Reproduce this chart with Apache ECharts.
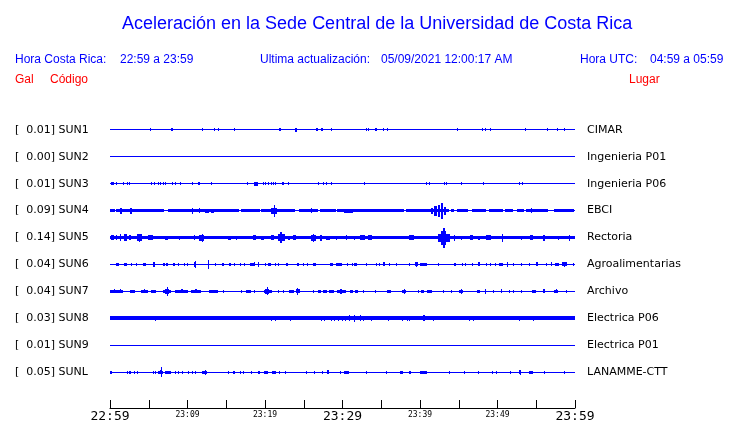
<!DOCTYPE html>
<html>
<head>
<meta charset="utf-8">
<script src="https://cdn.jsdelivr.net/npm/echarts@6/dist/echarts.min.js"></script>
<style>html,body{margin:0;padding:0;background:#fff}#c{width:740px;height:423px}</style>
</head>
<body>
<div id="c"></div>
<script>
// ---------- DATA ----------
const codes = ['SUN1','SUN2','SUN3','SUN4','SUN5','SUN6','SUN7','SUN8','SUN9','SUNL'];
const gal = ['0.01','0.00','0.01','0.09','0.14','0.04','0.04','0.03','0.01','0.05'];
const places = ['CIMAR','Ingenieria P01','Ingenieria P06','EBCI','Rectoria','Agroalimentarias','Archivo','Electrica P06','Electrica P01','LANAMME-CTT'];
const tickLabels = ['22:59','','23:09','','23:19','','23:29','','23:39','','23:49','','23:59'];
const bigTicks = ['22:59','23:29','23:59'];
// time in minutes after 22:59; [start, end, half amplitude]
const bands = {
  SUN4: [[0,0.6,1.5],[0.9,7.1,1.5],[7.5,16.6,1.5],[17.0,19.4,1.5],[19.6,24.0,1.5],[24.4,26.8,1.5],[27.2,29.2,1.5],[29.4,38.1,1.5],[38.3,43.9,1.5],[44.1,44.5,1.5],[44.8,46.2,1.5],[46.8,48.6,1.5],[49.0,50.8,1.5],[51.0,52.0,1.5],[52.6,53.5,1.5],[53.8,56.7,1.5],[57.4,60,1.5]],
  SUN5: [[0,60,1.5]],
  SUN8: [[0,60,2]]
};
const sun1 = [[5.2,5.2,1.5],[7.9,7.9,1.5],[8.1,8.1,1.5],[11.9,11.9,1.5],[13.5,13.5,1.5],[14.0,14.0,1.5],[16.0,16.0,1.5],[21.9,22.2,1.5],[23.9,24.1,2],[26.6,26.8,1.5],[27.3,27.6,1.5],[28.6,28.6,1.5],[33.1,33.1,1.5],[33.3,33.3,1.5],[34.2,34.4,1.5],[35.3,35.3,1.5],[35.8,35.8,1.5],[44.8,44.8,1.5],[48.0,48.0,1.5],[48.5,48.5,1.5],[49.1,49.1,1.5],[53.6,53.6,1.5],[56.4,56.4,1.5],[57.8,57.8,1.5],[58.6,58.6,1.5]];
const sun2 = [];
const sun3 = [[0.2,0.6,1.5],[0.9,0.9,1.5],[1.8,1.8,1.5],[2.2,2.2,1.5],[2.5,2.5,1.5],[5.4,5.4,1.5],[5.8,5.8,1.5],[6.2,6.3,1.5],[6.5,6.6,1.5],[6.9,7.0,1.5],[7.2,7.3,1.5],[8.1,8.1,1.5],[8.4,8.4,1.5],[9.1,9.1,1.5],[10.7,10.7,1.5],[11.4,11.6,1.5],[13.1,13.1,1.5],[17.7,17.7,1.5],[18.6,19.1,2],[19.8,19.8,1.5],[20.0,20.0,1.5],[20.4,20.4,1.5],[20.9,20.9,1.5],[21.1,21.1,1.5],[21.4,21.4,1.5],[22.2,22.4,1.5],[23.0,23.0,1.5],[26.9,26.9,1.5],[27.5,27.5,1.5],[27.9,28.0,1.5],[28.6,28.6,1.5],[32.9,32.9,1.5],[40.9,41.0,1.5],[41.2,41.3,1.5],[43.2,43.2,1.5],[43.4,43.4,1.5],[45.3,45.3,1.5],[48.2,48.2,1.5],[52.9,53.0,1.5],[53.2,53.2,1.5]];
const sun4 = [[1.3,1.5,3],[2.7,2.9,3],[10.7,10.7,3],[11.6,11.6,2.5],[12.3,12.8,2],[13.1,13.5,2],[20.9,21.7,3],[21.2,21.3,6],[26.0,26.0,2.5],[30.3,31.4,2],[41.5,41.8,3],[41.9,42.3,5],[42.4,42.7,6],[42.8,43.0,8],[43.1,43.3,4],[54.4,54.4,2.5]];
const sun5 = [[0.2,0.6,2.5],[0.9,1.0,2.5],[1.3,1.3,3.5],[1.9,2.3,3.5],[2.5,2.8,2.5],[3.6,4.2,3.5],[3.8,3.9,4],[5.0,5.6,2.5],[7.1,7.5,2],[9.0,9.0,2],[10.9,10.9,2.5],[11.6,12.3,3],[11.9,12.0,4],[15.3,15.7,2],[16.3,16.3,2],[18.5,18.9,2.5],[19.6,20.0,2],[20.9,21.3,2.5],[21.7,22.6,3.5],[22.0,22.2,5.5],[23.0,23.3,2],[23.7,24.1,2.5],[26.0,26.7,3],[26.3,26.4,4],[27.2,27.5,3],[27.9,28.4,2],[29.2,29.2,2],[30.5,30.5,2.5],[31.6,31.6,2],[32.3,32.9,2.5],[33.3,33.8,2.5],[38.6,39.2,2.5],[42.4,43.9,4],[42.8,43.4,7],[43.0,43.2,10],[44.5,44.5,3],[45.4,45.4,2],[46.5,46.9,2.5],[47.5,47.7,2],[48.6,49.3,2.5],[50.7,50.7,4],[53.1,53.1,2],[54.2,54.6,2.5],[55.9,56.1,3],[57.9,57.9,2],[59.3,59.3,3]];
const sun6 = [[0.9,1.3,1.5],[1.9,2.3,1.5],[2.8,2.8,1.5],[3.4,3.4,1.5],[4.3,4.7,1.5],[5.6,5.8,2.5],[6.9,7.1,1.5],[7.3,7.5,1.5],[8.2,8.5,1.5],[8.9,8.9,1.5],[9.6,9.6,1.5],[10.0,10.0,1.5],[10.9,11.2,2.5],[11.0,11.1,3.5],[12.7,12.7,4.5],[13.6,13.6,1.5],[14.5,14.8,1.5],[15.4,15.6,1.5],[16.1,16.1,1.5],[16.8,16.8,1.5],[17.4,17.4,1.5],[18.1,18.8,1.5],[18.6,18.7,2],[19.1,19.1,2.5],[20.0,20.0,1.5],[20.5,20.9,1.5],[21.3,21.3,1.5],[21.8,21.8,1.5],[22.8,23.0,1.5],[24.2,24.5,1.5],[25.0,25.0,1.5],[25.5,25.5,1.5],[26.3,26.7,1.5],[28.4,28.8,1.5],[29.2,30.0,1.5],[30.6,30.6,1.5],[31.3,31.3,1.5],[31.6,32.0,1.5],[33.1,33.1,1.5],[34.4,34.4,1.5],[34.8,34.8,1.5],[35.3,35.5,2],[36.0,36.0,1.5],[37.0,37.0,1.5],[38.6,38.6,1.5],[39.4,39.8,2],[39.6,39.7,2.5],[40.0,40.9,1.5],[42.4,42.4,1.5],[44.5,44.8,1.5],[45.5,45.5,1.5],[45.9,45.9,1.5],[46.8,46.8,1.5],[47.5,47.8,2],[48.6,48.6,1.5],[49.1,49.1,1.5],[49.7,49.7,1.5],[50.3,50.8,1.5],[51.3,51.3,2.5],[52.0,52.0,1.5],[53.1,53.1,1.5],[54.1,54.1,1.5],[55.0,55.3,2],[56.3,56.3,1.5],[57.0,57.0,2],[57.5,58.0,1.5],[58.4,59.1,2],[58.7,58.8,2.5],[59.8,59.8,1.5]];
const sun7 = [[0,1.7,1.5],[0.6,0.7,2],[1.4,1.5,2],[2.6,3.2,1.5],[4.1,5.0,1.5],[4.5,4.6,2],[5.4,6.0,1.5],[6.9,7.9,1.5],[7.2,7.7,2.5],[7.4,7.5,4.5],[8.4,10.1,1.5],[9.2,9.4,2],[10.5,11.8,1.5],[11.0,11.2,2],[12.9,14.0,1.5],[14.7,14.7,1.5],[17.0,17.0,1.5],[17.6,18.3,1.5],[18.7,18.7,1.5],[19.9,20.9,1.5],[20.1,20.6,2.5],[20.3,20.4,4],[21.7,21.7,1.5],[22.4,22.4,1.5],[23.2,23.9,1.5],[24.0,24.5,2],[24.2,24.3,3.5],[26.2,26.2,1.5],[26.9,27.3,1.5],[27.5,28.0,1.5],[28.3,29.0,1.5],[29.4,30.5,1.5],[29.8,30.0,2.5],[31.0,31.4,1.5],[31.7,32.1,1.5],[32.7,32.7,1.5],[34.2,34.2,1.5],[35.8,36.3,1.5],[37.8,38.3,1.5],[38.0,38.1,2.5],[39.8,39.8,1.5],[40.2,40.6,1.5],[41.0,41.6,1.5],[43.0,43.0,1.5],[44.1,44.1,1.5],[45.1,45.6,1.5],[45.3,45.4,2.5],[47.4,47.8,1.5],[48.4,48.4,2.5],[49.5,49.5,1.5],[50.5,50.5,2],[51.5,51.5,1.5],[52.1,52.1,1.5],[53.1,53.1,1.5],[54.5,55.0,1.5],[55.9,56.2,2],[57.4,57.9,1.5],[57.6,57.7,2],[58.9,58.9,1.5]];
const sun8 = [[5.9,5.9,2.5],[20.9,20.9,2.5],[21.4,21.4,2.5],[23.3,23.3,2.5],[27.3,27.3,2.5],[27.7,27.7,2.5],[28.6,28.6,2.5],[29.0,29.0,2.5],[29.5,29.5,2.5],[30.0,30.1,2.5],[30.4,30.5,2.5],[30.9,31.0,3],[31.5,31.6,3.5],[32.3,32.4,3],[32.7,32.8,2.5],[33.8,33.8,2.5],[35.9,35.9,2.5],[37.7,37.7,2.5],[38.4,38.4,2.5],[38.6,38.6,2.5],[40.4,40.7,3],[41.7,41.7,2.5],[46.4,46.4,2.5],[46.9,46.9,2.5],[52.9,52.9,2.5],[54.7,54.7,2.5]];
const sun9 = [];
const sunl = [[0,0.3,1.5],[2.2,2.2,1.5],[2.5,2.8,1.5],[3.1,3.1,1.5],[3.6,3.6,1.5],[5.6,5.6,1.5],[5.9,5.9,1.5],[6.3,7.0,1.5],[6.5,6.6,2],[6.7,6.7,5],[7.1,7.9,1.5],[8.5,8.5,1.5],[8.9,8.9,1.5],[9.3,9.3,1.5],[10.1,10.1,1.5],[10.6,10.6,1.5],[11.0,11.0,1.5],[11.9,12.5,1.5],[12.3,12.3,2.5],[15.3,15.3,1.5],[15.9,16.2,1.5],[16.9,16.9,1.5],[17.2,17.2,1.5],[18.2,18.2,1.5],[19.1,19.4,1.5],[19.9,20.4,1.5],[21.0,21.5,1.5],[21.9,21.9,1.5],[22.6,22.6,1.5],[25.4,25.4,1.5],[26.4,26.4,1.5],[27.4,27.4,1.5],[28.1,28.4,2],[29.7,29.8,1.5],[30.3,31.0,1.5],[33.1,33.1,1.5],[35.7,35.7,1.5],[37.5,37.9,1.5],[38.6,38.8,1.5],[40.0,40.9,1.5],[43.8,43.8,1.5],[45.8,45.8,1.5],[47.6,47.6,1.5],[49.4,49.4,1.5],[49.9,49.9,1.5],[51.7,51.7,1.5],[52.9,53.1,2],[53.0,53.0,2.5],[54.1,54.6,1.5],[56.1,56.1,1.5],[58.7,58.7,1.5]];
const events = [sun1, sun2, sun3, sun4, sun5, sun6, sun7, sun8, sun9, sunl];

// ---------- BUILD ----------
const T0 = 0, T1 = 60;
const AMP = 1 / 27; // amplitude unit relative to trace spacing
const items = [];
codes.forEach((c, row) => {
  items.push([T0, T1, 0.5, row]);
  (bands[c] || []).forEach(b => items.push([b[0], b[1], b[2], row]));
  events[row].forEach(e => items.push([e[0], e[1], e[2], row]));
});

const BLUE = '#0000ff';
const chart = echarts.init(document.getElementById('c'), null, {renderer: 'canvas'});

function renderItem(params, api) {
  const s = api.value(0), e = api.value(1), a = api.value(2), r = api.value(3);
  const p0 = api.coord([s, r]);
  const p1 = api.coord([e, r]);
  const hpx = api.size([0, a * AMP])[1];
  const h = Math.max(1, Math.round(2 * hpx));
  const w = Math.max(1, Math.round(p1[0] - p0[0]));
  return {
    type: 'rect',
    shape: {x: Math.floor(p0[0]), y: Math.round(p0[1] - h / 2), width: w, height: h},
    style: {fill: BLUE}
  };
}

const labelFont = {fontFamily: 'DejaVu Sans', fontSize: 11, color: '#000'};
const hdr = (text, x, y, color) => ({
  type: 'text', x: x, y: y,
  style: {text: text, fill: color, font: '12px "Liberation Sans", Arial, sans-serif', verticalAlign: 'middle'}
});

chart.setOption({
  animation: false,
  title: {
    text: 'Aceleración en la Sede Central de la Universidad de Costa Rica',
    left: 117, top: 10,
    textStyle: {color: BLUE, fontFamily: '"Liberation Sans", Arial, sans-serif', fontSize: 18, fontWeight: 'normal'}
  },
  graphic: [
    hdr('Hora Costa Rica:', 15, 60, BLUE),
    hdr('22:59 a 23:59', 120, 60, BLUE),
    hdr('Ultima actualización:', 260, 60, BLUE),
    hdr('05/09/2021 12:00:17 AM', 381, 60, BLUE),
    hdr('Hora UTC:', 580, 60, BLUE),
    hdr('04:59 a 05:59', 650, 60, BLUE),
    hdr('Gal', 15, 80, '#ff0000'),
    hdr('Código', 50, 80, '#ff0000'),
    hdr('Lugar', 629, 80, '#ff0000')
  ],
  grid: {left: 110, right: 165, top: 103, height: 297},
  xAxis: {
    type: 'value', min: T0, max: T1, interval: 5, offset: 9, position: 'bottom',
    axisLine: {show: true, onZero: false, lineStyle: {color: '#000', width: 1}},
    axisTick: {show: true, inside: true, length: 8, lineStyle: {color: '#000'}},
    splitLine: {show: false},
    axisLabel: {
      margin: 1, showMinLabel: true, showMaxLabel: true,
      formatter: v => {
        const t = tickLabels[Math.round(v / 5)] || '';
        if (!t) return '';
        return bigTicks.indexOf(t) >= 0 ? '{big|' + t + '}' : '{small|' + t + '}';
      },
      rich: {
        big: {fontFamily: '"DejaVu Sans Mono", monospace', fontSize: 13, color: '#000', padding: [1, 0, 0, 0]},
        small: {fontFamily: '"DejaVu Sans Mono", monospace', fontSize: 8, color: '#000', padding: [2, 0, 0, 0]}
      }
    }
  },
  yAxis: [
    {
      type: 'value', min: -1, max: 10, interval: 1, inverse: true, position: 'left',
      axisLine: {show: false}, axisTick: {show: false}, splitLine: {show: false},
      axisLabel: Object.assign({
        align: 'left', margin: 95,
        formatter: v => (v >= 0 && v < codes.length) ? '[  ' + gal[v] + '] ' + codes[v] : ''
      }, labelFont)
    },
    {
      type: 'value', min: -1, max: 10, interval: 1, inverse: true, position: 'right',
      axisLine: {show: false}, axisTick: {show: false}, splitLine: {show: false},
      axisLabel: Object.assign({
        align: 'left', margin: 12,
        formatter: v => (v >= 0 && v < places.length) ? places[v] : ''
      }, labelFont)
    }
  ],
  series: [{
    type: 'custom',
    renderItem: renderItem,
    encode: {x: [0, 1], y: 3},
    data: items,
    clip: false,
    silent: true
  }]
});
</script>
</body>
</html>
